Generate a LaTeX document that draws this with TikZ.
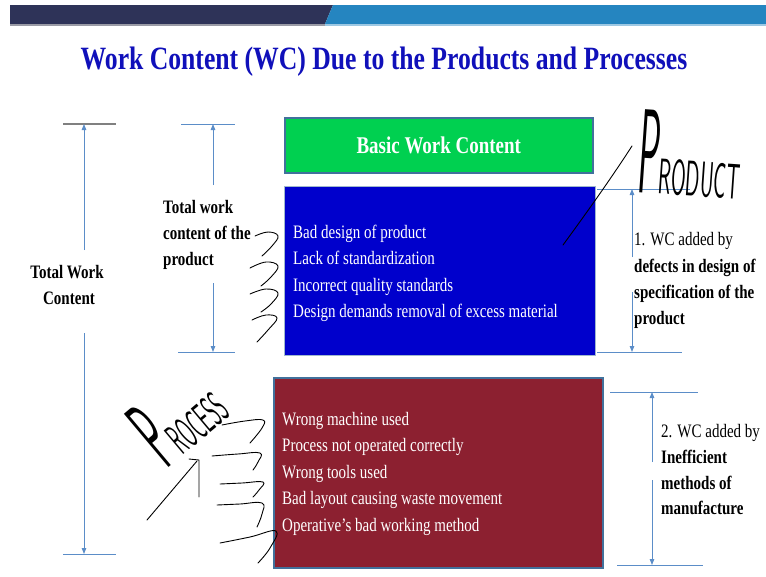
\documentclass[tikz,border=0pt]{standalone}
\usepackage{fontspec}
\setmainfont{Liberation Serif}[FakeStretch=0.79]
\usetikzlibrary{arrows.meta}
\definecolor{navy}{RGB}{46,51,88}
\definecolor{barblue}{RGB}{37,133,192}
\definecolor{titleblue}{RGB}{16,16,186}
\definecolor{gfill}{RGB}{0,208,80}
\definecolor{bfill}{RGB}{0,0,204}
\definecolor{rfill}{RGB}{140,32,48}
\definecolor{edge}{RGB}{65,113,156}
\definecolor{dimc}{RGB}{91,141,200}
\begin{document}
\begin{tikzpicture}[x=1pt,y=-1pt,
  body/.style={font=\fontsize{19}{26.5}\selectfont, inner sep=0pt, anchor=base west, text=white},
  lbl/.style={font=\fontsize{19}{26.5}\selectfont, inner sep=0pt, anchor=base west, text=black},
  lblb/.style={font=\bfseries\fontsize{19}{26.5}\selectfont, inner sep=0pt, anchor=base west, text=black},
  dimline/.style={draw=dimc, line width=0.9pt},
  dimarrow/.style={draw=dimc, line width=0.9pt, -{Triangle[length=6pt,width=4.5pt]}},
  pen/.style={draw=black, line width=0.9pt, line cap=round, line join=round},
  hand/.style={font=\sffamily, inner sep=0pt, text=black}]
\useasboundingbox (0,0) rectangle (766,576);
\fill[white] (0,0) rectangle (766,576);
% top bar
\fill[navy] (10,5) -- (333,5) -- (325,24) -- (10,24) -- cycle;
\fill[barblue] (333,5) -- (766,5) -- (766,24) -- (325,24) -- cycle;
\fill[black!35!navy!45] (10,24) rectangle (325,25.5);
\fill[barblue!45] (325,24) rectangle (766,25.5);
% title
\node[inner sep=0pt, anchor=base, text=titleblue, font=\bfseries\fontsize{32.5}{36}\selectfont] (title) at (384,69) {Work Content (WC) Due to the Products and Processes};
% boxes
\node[draw=edge, line width=1.5pt, fill=gfill, minimum width=308pt, minimum height=55pt, anchor=north west, inner sep=0pt, text=white, font=\bfseries\fontsize{24}{28}\selectfont] (basic) at (284,117) {Basic Work Content};
\node[draw=edge!50, line width=1pt, fill=bfill, minimum width=311pt, minimum height=169pt, anchor=north west] (prodbox) at (284,186) {};
\node[draw=edge, line width=1.5pt, fill=rfill, minimum width=329pt, minimum height=190pt, anchor=north west] (procbox) at (273,377) {};
% product items
\node[body] (p1) at (293,238) {Bad design of product};
\node[body] (p2) at (293,264.5) {Lack of standardization};
\node[body] (p3) at (293,291) {Incorrect quality standards};
\node[body] (p4) at (293,317.5) {Design demands removal of excess material};
% process items
\node[body] (q1) at (282,425) {Wrong machine used};
\node[body] (q2) at (282,451.5) {Process not operated correctly};
\node[body] (q3) at (282,478) {Wrong tools used};
\node[body] (q4) at (282,504.5) {Bad layout causing waste movement};
\node[body] (q5) at (282,531) {Operative’s bad working method};
% left labels
\node[lblb, anchor=base] (tw1) at (67,278) {Total Work};
\node[lblb, anchor=base] (tw2) at (69,304) {Content};
\node[lblb] (tp1) at (163,213) {Total work};
\node[lblb] (tp2) at (163,239) {content of the};
\node[lblb] (tp3) at (163,265.5) {product};
% right labels
\node[lbl] (r1a) at (634,245) {1. WC added by};
\node[lblb] (r1b) at (634,272) {defects in design of};
\node[lblb] (r1c) at (634,298) {specification of the};
\node[lblb] (r1d) at (634,324.5) {product};
\node[lbl] (r2a) at (661,437) {2. WC added by};
\node[lblb] (r2b) at (661,463) {Inefficient};
\node[lblb] (r2c) at (661,489) {methods of};
\node[lblb] (r2d) at (661,514.5) {manufacture};
% dimension coordinates
\coordinate (a1) at (84,124); \coordinate (a2) at (84,250);
\coordinate (a3) at (84,333); \coordinate (a4) at (84,554);
\coordinate (b1) at (213,124); \coordinate (b2) at (213,185);
\coordinate (b3) at (213,283); \coordinate (b4) at (213,352);
\coordinate (c1) at (632,189); \coordinate (c2) at (632,257);
\coordinate (c3) at (632,292); \coordinate (c4) at (632,352);
\coordinate (d1) at (652,392); \coordinate (d2) at (652,462);
\coordinate (d3) at (652,480); \coordinate (d4) at (652,565);
% total work content
\draw[draw=gray, line width=1.6pt] (63,124) -- (116,124);
\draw[dimarrow] (a2) -- (a1);
\draw[dimarrow] (a3) -- (a4);
\draw[dimline] (63,554) -- (116,554);
% product dimension
\draw[dimline] (181,124) -- (235,124);
\draw[dimarrow] (b2) -- (b1);
\draw[dimarrow] (b3) -- (b4);
\draw[dimline] (178,352) -- (235,352);
% right dimension 1
\draw[dimline] (597,189) -- (690,189);
\draw[dimarrow] (c2) -- (c1);
\draw[dimarrow] (c3) -- (c4);
\draw[dimline] (597,352) -- (682,352);
% right dimension 2
\draw[dimline] (610,392) -- (698,392);
\draw[dimarrow] (d2) -- (d1);
\draw[dimarrow] (d3) -- (d4);
\draw[dimline] (617,565) -- (703,565);
% handwritten PRODUCT
\node[hand, anchor=base west, rotate=-4] (hprod) at (636,192) {\scalebox{0.3}[1]{\fontsize{120}{120}\selectfont P}\scalebox{0.42}[1]{\fontsize{50}{50}\selectfont RODUCT}};
\draw[pen] (563,245) .. controls (585,215) and (610,180) .. (632,146);
% handwritten PROCESS
\node[hand, anchor=base west, rotate=40] (hproc) at (166,470) {\scalebox{0.36}[1]{\fontsize{100}{100}\selectfont P}\scalebox{0.42}[1]{\fontsize{44}{44}\selectfont ROCESS}};
\draw[pen] (147,520) -- (197,461);
\draw[pen] (189,459) -- (199,460) -- (199,497);
% squiggle arrows, product
\draw[pen] plot[smooth, tension=0.7] coordinates {(255,236) (268,232) (278,236) (272,246) (262,256)};
\draw[pen] plot[smooth, tension=0.7] coordinates {(250,268) (266,262) (278,266) (271,277) (261,286)};
\draw[pen] plot[smooth, tension=0.7] coordinates {(250,294) (266,289) (278,293) (271,304) (261,312)};
\draw[pen] plot[smooth, tension=0.7] coordinates {(252,320) (266,315) (277,318) (268,330) (257,342)};
% squiggle arrows, process
\draw[pen] plot[smooth, tension=0.7] coordinates {(222,425) (245,421) (263,420) (262,428) (250,443)};
\draw[pen] plot[smooth, tension=0.7] coordinates {(212,456) (238,454) (260,453) (258,462) (253,470)};
\draw[pen] plot[smooth, tension=0.7] coordinates {(220,484) (242,483) (263,482) (259,490) (253,497)};
\draw[pen] plot[smooth, tension=0.7] coordinates {(217,505) (240,504) (262,503) (262,514) (257,527)};
\draw[pen] plot[smooth, tension=0.7] coordinates {(220,543) (250,537) (276,531) (270,548) (258,563)};
\end{tikzpicture}
\end{document}
